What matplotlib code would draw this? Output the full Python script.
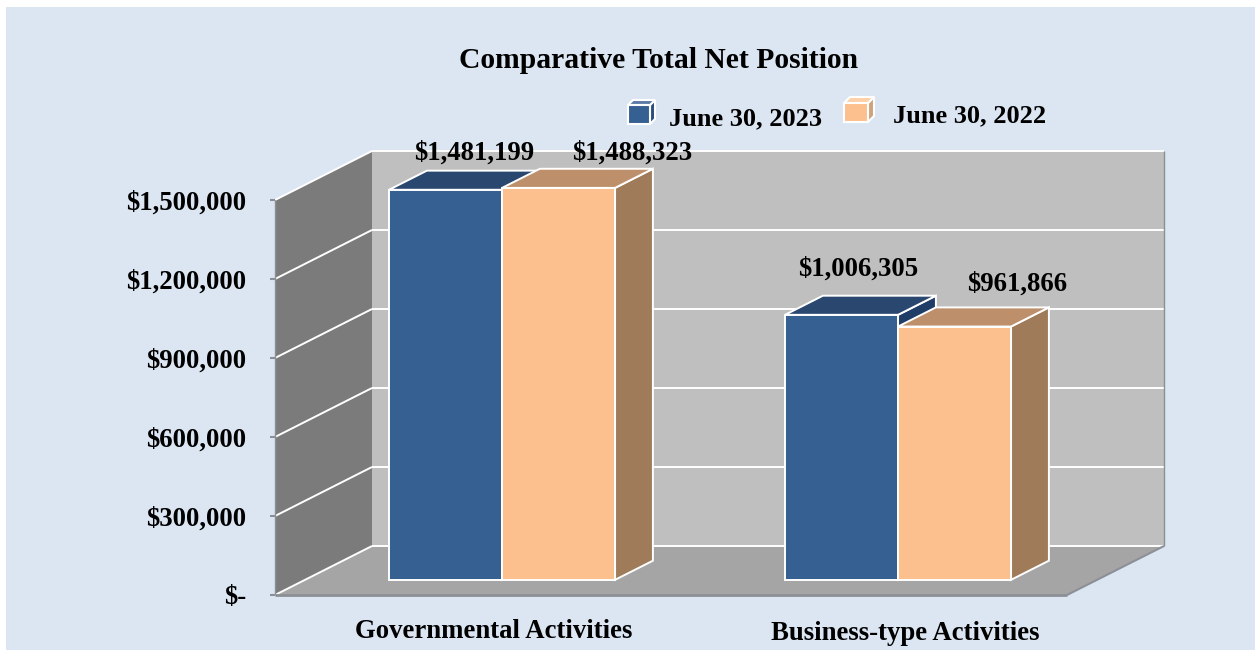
import matplotlib
matplotlib.use("Agg")
import matplotlib.pyplot as plt
from matplotlib.patches import Polygon, Rectangle
from matplotlib.transforms import Affine2D

# ---- data ----
categories = ["Governmental Activities", "Business-type Activities"]
series_names = ["June 30, 2023", "June 30, 2022"]
values_2023 = [1481199, 1006305]
values_2022 = [1488323, 961866]
tick_values = [0, 300000, 600000, 900000, 1200000, 1500000]
tick_labels = ["$-", "$300,000", "$600,000", "$900,000", "$1,200,000", "$1,500,000"]
title = "Comparative Total Net Position"

# ---- style / layout ----
W, H = 1255, 650
FONT = "Liberation Serif"
BG = "#dce6f2"
WALL_BACK, WALL_SIDE, FLOOR = "#bfbfbf", "#7b7b7b", "#a5a5a5"
EDGE_GREY = "#8c9096"
BLUE = ("#366092", "#2a4770", "#1f3d66")      # front, top, side
ORANGE = ("#fcc08e", "#bd8f6b", "#9f7b5a")
PX_Y0, PX_PER_VALUE = 595, 395 / 1500000
PX_X0, PX_PER_CAT = 275, 396
DEPTH_X, DEPTH_V = 97 / PX_PER_CAT, 49 / PX_PER_VALUE   # full floor depth in data units
BAR_WIDTH = 113 / PX_PER_CAT
BAR_SHIFT = -1 / PX_PER_CAT
BAR_D0, BAR_D1 = 0.31, 0.70                   # bar front / back as share of floor depth
LABEL_OFF = [[(29, 37), (74, 35)], [(17, 46), (63, 42)]]  # pixels from bar's front-top centre

fig = plt.figure(figsize=(W / 100, H / 100), dpi=100, facecolor="white")
ax = fig.add_axes([0, 0, 1, 1])
ax.set_xlim(-PX_X0 / PX_PER_CAT, (W - PX_X0) / PX_PER_CAT)
ax.set_ylim((PX_Y0 - H) / PX_PER_VALUE, PX_Y0 / PX_PER_VALUE)
ax.axis("off")

px = Affine2D().scale(1, -1).translate(0, H)   # canvas pixels, y pointing down


def proj(x, v, d=0.0):
    return (x + d * DEPTH_X, v + d * DEPTH_V)


def poly(points, fc, ec="none", lw=0, z=1, **kw):
    ax.add_patch(Polygon(points, closed=True, fc=fc, ec=ec, lw=lw, zorder=z,
                         joinstyle="miter", **kw))


def line(p, q, color="white", lw=1.4, z=2):
    ax.plot([p[0], q[0]], [p[1], q[1]], color=color, lw=lw, zorder=z,
            solid_capstyle="butt")


ax.add_patch(Rectangle((6, 7), W, H, fc=BG, ec="none", transform=px, zorder=0))

# walls and floor
n_cat = len(categories)
vmax = tick_values[-1]
poly([proj(0, 0, 1), proj(n_cat, 0, 1), proj(n_cat, vmax, 1), proj(0, vmax, 1)], WALL_BACK)
poly([proj(0, 0), proj(0, 0, 1), proj(0, vmax, 1), proj(0, vmax)], WALL_SIDE)
poly([proj(0, 0), proj(n_cat, 0), proj(n_cat, 0, 1), proj(0, 0, 1)], FLOOR)

for t in tick_values:
    line(proj(0, t), proj(0, t, 1))
    line(proj(0, t, 1), proj(n_cat, t, 1))
    line((proj(0, t)[0] - 5 / PX_PER_CAT, t), proj(0, t), color=EDGE_GREY, lw=1.5, z=3)
line(proj(0, 0), proj(n_cat, 0), color=EDGE_GREY, lw=2, z=3)
line(proj(n_cat, 0), proj(n_cat, 0, 1), color=EDGE_GREY, lw=1.5, z=3)
line(proj(n_cat, 0, 1), proj(n_cat, vmax, 1), color=EDGE_GREY, lw=1, z=3)
line(proj(0, 0), proj(0, vmax), color=EDGE_GREY, lw=1, z=3)

# bars
z = 5
for i in range(n_cat):
    for j, (vals, cols) in enumerate(((values_2023, BLUE), (values_2022, ORANGE))):
        v = vals[i]
        x0 = i + 0.5 + (j - 1) * BAR_WIDTH + BAR_SHIFT
        x1 = x0 + BAR_WIDTH
        poly([proj(x1, 0, BAR_D0), proj(x1, 0, BAR_D1), proj(x1, v, BAR_D1), proj(x1, v, BAR_D0)],
             cols[2], "white", 1.4, z)
        poly([proj(x0, v, BAR_D0), proj(x1, v, BAR_D0), proj(x1, v, BAR_D1), proj(x0, v, BAR_D1)],
             cols[1], "white", 1.4, z)
        poly([proj(x0, 0, BAR_D0), proj(x1, 0, BAR_D0), proj(x1, v, BAR_D0), proj(x0, v, BAR_D0)],
             cols[0], "white", 1.4, z)
        z += 1
        ax.annotate(f"${v:,}", xy=proj((x0 + x1) / 2, v, BAR_D0),
                    xytext=(LABEL_OFF[i][j][0] * 0.72, LABEL_OFF[i][j][1] * 0.72),
                    textcoords="offset points", ha="center", va="center",
                    family=FONT, weight="bold", fontsize=19.3, color="black", zorder=20)

# value axis labels
for t, s in zip(tick_values, tick_labels):
    ax.annotate(s, xy=(0, t), xytext=(-29 * 0.72, -2), textcoords="offset points",
                ha="right", va="center", family=FONT, weight="bold", fontsize=19.3,
                color="black", zorder=20)

# category labels
cat_px = [(494, 632), (905, 634)]
for s, (x, y) in zip(categories, cat_px):
    ax.text(x, y, s, transform=px, ha="center", va="center", family=FONT, weight="bold",
            fontsize=19.3, color="black")

ax.text(659, 61, title, transform=px, ha="center", va="center", family=FONT, weight="bold",
        fontsize=21.3, color="black")


# legend
def cube(x0, y0, x1, y1, dx, dy, cols):
    for pts, c in (
        ([(x1, y0), (x1 + dx, y0 - dy), (x1 + dx, y1 - dy), (x1, y1)], cols[2]),
        ([(x0, y0), (x1, y0), (x1 + dx, y0 - dy), (x0 + dx, y0 - dy)], cols[1]),
        ([(x0, y0), (x1, y0), (x1, y1), (x0, y1)], cols[0]),
    ):
        ax.add_patch(Polygon(pts, closed=True, fc=c, ec="white", lw=1.5, transform=px, zorder=10))


cube(628, 105, 650, 124, 5, 5, (BLUE[0], "#5b7ba6", "#2a4d7c"))
cube(844, 103, 868, 122, 6, 6, (ORANGE[0], "#fdd0a8", "#cfa27c"))
ax.text(669, 119, series_names[0], transform=px, ha="left", va="center", family=FONT,
        weight="bold", fontsize=19, color="black", zorder=20)
ax.text(893, 116, series_names[1], transform=px, ha="left", va="center", family=FONT,
        weight="bold", fontsize=19, color="black", zorder=20)

fig.savefig("out.png", dpi=100, facecolor="white")
